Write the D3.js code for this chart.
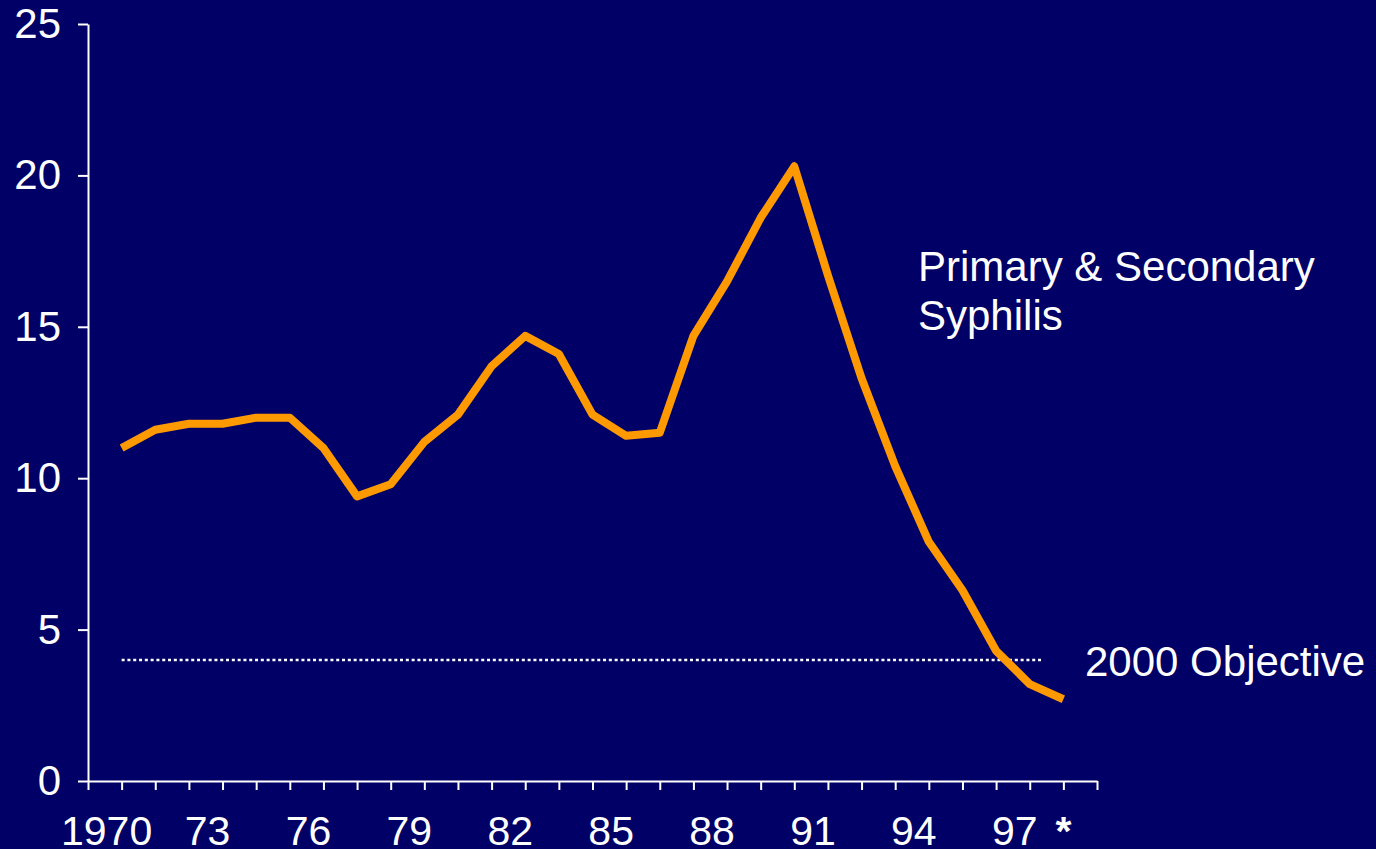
<!DOCTYPE html>
<html>
<head>
<meta charset="utf-8">
<script src="https://cdn.jsdelivr.net/npm/d3@7"></script>
<style>
  html, body { margin: 0; padding: 0; background: #000066; }
  svg { display: block; }
  text { font-family: 'Liberation Sans', Arial, sans-serif; fill: #fff; }
</style>
</head>
<body>
<div id="chart"></div>
<script>
// P&S syphilis rate per 100,000, 1970-1998
const years = [1970, 1971, 1972, 1973, 1974, 1975, 1976, 1977, 1978, 1979,
  1980, 1981, 1982, 1983, 1984, 1985, 1986, 1987, 1988, 1989,
  1990, 1991, 1992, 1993, 1994, 1995, 1996, 1997, 1998];
const rates = [11.0, 11.6, 11.8, 11.8, 12.0, 12.0, 11.0, 9.4, 9.8, 11.2,
  12.1, 13.7, 14.7, 14.1, 12.1, 11.4, 11.5, 14.7, 16.5, 18.6,
  20.3, 16.7, 13.3, 10.4, 7.9, 6.3, 4.3, 3.2, 2.7];

const labelYears = [1970, 1973, 1976, 1979, 1982, 1985, 1988, 1991, 1994, 1997, 1998];
const labelTexts = ['1970', '73', '76', '79', '82', '85', '88', '91', '94', '97', '*'];
const yTicks = [0, 5, 10, 15, 20, 25];

const objective = 4;
const objectiveYears = [1970, 1997.4];
const seriesLabel = ['Primary & Secondary', 'Syphilis'];
const objectiveLabel = '2000 Objective';

const width = 1376;
const height = 849;

const svg = d3.select('#chart')
  .append('svg')
  .attr('width', width)
  .attr('height', height);

svg.append('rect')
  .attr('width', width)
  .attr('height', height)
  .attr('fill', '#000066');

const x = d3.scaleLinear().domain([1969, 1999]).range([88, 1097]);
const y = d3.scaleLinear().domain([0, 25]).range([781, 24]);

// y axis
const yAxis = svg.append('g')
  .attr('transform', `translate(${x(1969)},0)`)
  .call(d3.axisLeft(y).tickValues(yTicks).tickSize(10).tickSizeOuter(0).tickPadding(17));

// x axis, a tick for every year
const xAxis = svg.append('g')
  .attr('transform', `translate(0,${y(0)})`)
  .call(d3.axisBottom(x).tickValues(d3.range(1969, 2000)).tickSize(9).tickSizeOuter(0).tickFormat(''));

[yAxis, xAxis].forEach(a => {
  a.selectAll('path, line').attr('stroke', '#fff').attr('stroke-width', 2);
});
yAxis.selectAll('text')
  .attr('fill', '#fff')
  .style('font-size', '42px')
  .style('font-family', "'Liberation Sans', Arial, sans-serif");

// category labels, shifted left of their tick like the original
svg.append('g')
  .selectAll('text')
  .data(labelYears)
  .enter()
  .append('text')
  .attr('x', d => x(d))
  .attr('y', 845)
  .attr('dx', (d, i) => labelTexts[i] === '*' ? 0 : -15)
  .attr('text-anchor', 'middle')
  .style('font-size', '41px')
  .style('font-weight', (d, i) => labelTexts[i] === '*' ? 'bold' : 'normal')
  .text((d, i) => labelTexts[i]);

// 2000 objective dotted line
svg.append('line')
  .attr('x1', x(objectiveYears[0]))
  .attr('x2', x(objectiveYears[1]))
  .attr('y1', y(objective))
  .attr('y2', y(objective))
  .attr('stroke', '#fff')
  .attr('stroke-width', 2.5)
  .attr('stroke-dasharray', '3,2.8');

// series line
const line = d3.line()
  .x((d, i) => x(years[i]))
  .y(d => y(d));

svg.append('path')
  .datum(rates)
  .attr('d', line)
  .attr('fill', 'none')
  .attr('stroke', '#ff9900')
  .attr('stroke-width', 8)
  .attr('stroke-linejoin', 'round');

// annotations
svg.append('text')
  .attr('x', 918)
  .attr('y', 281)
  .style('font-size', '42px')
  .selectAll('tspan')
  .data(seriesLabel)
  .enter()
  .append('tspan')
  .attr('x', 918)
  .attr('dy', (d, i) => i ? 49 : 0)
  .text(d => d);

svg.append('text')
  .attr('x', 1085)
  .attr('y', y(objective) + 16)
  .style('font-size', '42px')
  .text(objectiveLabel);
</script>
</body>
</html>
